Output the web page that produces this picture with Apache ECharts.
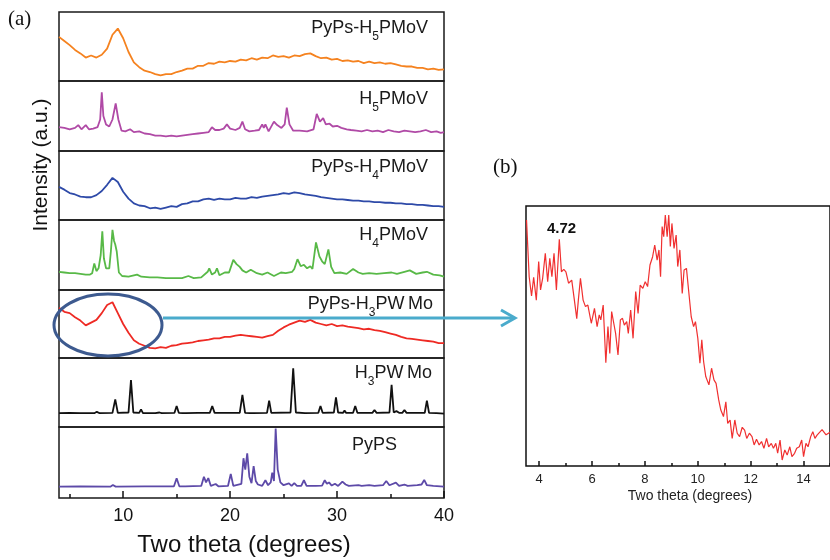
<!DOCTYPE html>
<html><head><meta charset="utf-8">
<script src="https://cdn.jsdelivr.net/npm/echarts@6/dist/echarts.min.js"></script>
<style>html,body{margin:0;padding:0;background:#fff}#c{width:830px;height:560px}</style>
</head><body><div id="c"></div>
<script>
// ---------- DATA ----------
// Shared 2-theta grid for the broad (amorphous) patterns, degrees
const thetaA = [4,4.5,5,5.5,6,6.5,7,7.5,8,8.5,9,9.5,10,10.5,11,11.5,12,12.5,13,13.5,14,14.5,15,15.5,16,16.5,17,17.5,18,18.5,19,19.5,20,20.5,21,21.5,22,22.5,23,23.5,24,24.5,25,25.5,26,26.5,27,27.5,28,28.5,29,29.5,30,30.5,31,31.5,32,32.5,33,33.5,34,34.5,35,35.5,36,36.5,37,37.5,38,38.5,39,39.5,40];
// PyPs-H5PMoV (orange), relative intensity within its panel (0-100)
const orangeI = [64,58,52,45,40,34,37,34,38,47, 67,76,62,42,27,20,15,13,10,8, 10,10,13,15,18,18,22,22,26,25, 28,27,29,28,31,30,33,31,34,33, 37,35,36,34,37,36,39,40,36,33, 34,31,32,29,30,28,29,26,28,26, 27,25,26,24,22,21,21,19,19,17, 18,16,17];
// PyPs-H4PMoV (blue)
const blueI = [48,44,39,37,34,33,33,36,42,51, 61,55,41,31,24,21,20,17,18,16, 18,20,19,23,24,27,27,30,31,29, 31,30,30,32,31,31,33,32,34,35, 36,37,39,38,40,39,37,36,35,33, 32,31,30,30,29,28,28,27,27,26, 26,25,25,24,24,23,23,22,22,21, 20,20,19];
// PyPs-H3PWMo (red)
const redI = [74,68,66,60,55,48,52,56,66,78, 82,66,50,37,26,21,18,15,14,16, 15,18,19,21,22,23,25,26,27,29, 29,31,31,33,34,33,32,31,30,32, 34,40,45,49,52,55,53,56,52,50, 48,50,47,48,46,45,44,42,43,41, 40,38,36,34,31,29,28,27,26,25, 24,22,22];
// H5PMoV (purple)
const purpleT = [4,4.5,5,5.5,5.8,6.1,6.5,6.8,7.2,7.6, 7.85,8.0,8.15,8.4,8.7,9.0,9.3,9.55,9.85,10.2, 10.65,11,11.5,12,12.5,13,13.5,14,14.5,15, 15.5,16,16.5,17,17.5,18,18.3,18.6,19,19.4, 19.7,20,20.5,20.9,21.15,21.4,21.8,22.3,22.7,23.0, 23.15,23.3,23.6,24.1,24.4,24.8,25.1,25.3,25.55,25.9, 26.5,27.2,27.8,28.1,28.4,28.7,28.95,29.3,29.6,30, 30.4,30.9,31.3,31.8,32.3,32.8,33.3,33.8,34.3,34.8, 35.3,35.8,36.3,36.8,37.3,37.8,38.3,38.8,39.3,39.7, 40];
const purpleI = [34,33,31,33,37,31,37,31,32,34, 45,84,50,38,35,45,68,45,29,28, 31,27,28,25,24,22,22,21,22,21, 22,23,24,25,26,27,34,30,30,32, 38,32,30,33,42,31,28,29,30,38, 33,38,28,42,37,33,38,62,38,29, 29,28,31,53,42,47,38,39,35,36, 33,31,30,29,28,30,28,29,27,30, 28,27,29,28,27,28,30,27,28,26, 27];
// H4PMoV (green)
const greenT = [4,4.5,5,5.5,6,6.5,6.9,7.1,7.3,7.5, 7.7,7.9,8.05,8.2,8.4,8.7,8.85,9.0,9.15,9.26, 9.4,9.6,9.9,10.5,11.3,11.7,12.5,13.2,14,14.8, 15.5,16.1,16.6,17.3,17.9,18.05,18.3,18.6,18.77,19.0, 19.5,19.9,20.3,20.6,20.9,21.15,21.5,21.93,22.5,23.0, 23.5,24.1,24.75,25.2,25.8,26.0,26.3,26.6,26.9,27.2, 27.5,27.7,28.03,28.35,28.6,28.85,29.19,29.45,29.75,30.3, 30.9,31.5,32,32.4,33,33.7,34.4,35.1,35.6,36.3, 36.8,37.4,38.0,38.4,39.0,39.6,40];
const greenI = [26,25,24,24,23,22,22,24,38,27, 31,50,84,45,31,31,55,86,70,65, 55,25,20,19,22,19,18,18,17,17, 17,20,17,18,26,31,22,25,31,21, 25,25,43,37,33,28,25,29,24,22, 25,20,25,24,26,30,44,34,36,31, 34,30,68,48,41,37,58,33,24,25, 23,30,25,23,24,23,24,25,23,26, 28,23,25,26,22,21,19];
// H3PWMo (black)
const blackT = [4,5,6,7.3,7.54,7.8,9.0,9.26,9.5,10.5, 10.73,10.95,11.5,11.67,11.85,13,13.4,13.6,14.8,15.0, 15.2,15.55,15.7,15.85,17,18.1,18.33,18.55,20.9,21.15, 21.4,21.85,22.0,22.15,23.45,23.65,23.85,25.65,25.9,26.15, 27,28.25,28.45,28.65,29.7,29.9,30.1,30.55,30.7,30.85, 31.5,31.7,31.9,33.3,33.5,33.7,34.9,35.1,35.3,35.55, 35.8,36.1,36.3,36.5,38.2,38.4,38.6,39.3,40];
const blackI = [20,20.5,20,20,22,20,20.5,40,20.5,21, 68,21,20.5,25.6,20,20,21,20,20.5,30.4, 20.5,20,22.2,20,20.5,20.5,30.4,20.5,20.5,46.4, 20.5,20,22,20,20.5,38.2,20.5,21,85,21, 20,20.5,30.4,20.5,21,43,21,20.5,23.7,20.5, 20.5,30.4,20.5,20.5,24.6,20.5,21,61,21,23, 20.5,20.5,24.6,20.5,20.5,38.2,20.5,20,19.5];
// PyPS (indigo)
const indigoT = [4,6,8.8,9.04,9.3,12,14.75,15.0,15.25,15.8, 17.3,17.55,17.75,17.96,18.2,18.65,18.9,19.8,20.06,20.3, 21.05,21.25,21.42,21.6,21.8,22.0,22.2,22.4,22.6,23.0, 23.3,23.55,23.8,23.94,24.1,24.26,24.45,24.7,25.0,25.5, 25.75,26.0,26.25,26.65,26.9,27.15,28.0,28.6,28.85,29.05, 29.25,29.5,29.8,30.1,30.5,30.8,31.1,32,32.3,33, 33.5,34.3,34.6,34.9,35.5,35.8,36.3,36.6,37.5,37.9, 38.15,38.4,39,40];
const indigoI = [16,16.5,16,18.3,16,16.5,16.5,27.7,16.5,16.5, 17,30,22,28,17,19.7,16.5,17,34,17, 20,56,40,63,30,21,45,24,19,17, 25,18,22,35.7,24,98,40,22,18,20.7, 17,21,17,17,25,17,17,17.5,25,20, 22,17.5,20,17,23,19,17,18,17,18, 17,18,24,18,21.6,17,19,17,18,19, 25.4,18,17,16];
// Panel (b): low-angle detail of PyPs-H3PWMo
const zoomT = [3.52,3.62,3.71,3.79,3.89,3.98,4.05,4.13,4.23,4.32, 4.40,4.48,4.56,4.65,4.76,4.84,4.93,5.01,5.11,5.23, 5.33,5.42,5.48,5.56,5.66,5.75,5.84,5.97,6.09,6.19, 6.27,6.33,6.42,6.52,6.60,6.67,6.74,6.82,6.89,6.98, 7.07,7.15,7.22,7.31,7.37,7.46,7.55,7.65,7.74,7.82, 7.92,8.01,8.10,8.19,8.29,8.37,8.46,8.53,8.59,8.65, 8.71,8.77,8.84,8.90,8.96,9.02,9.10,9.18,9.24,9.32, 9.41,9.48,9.57,9.65,9.75,9.84,9.91,10.00,10.08,10.15, 10.22,10.30,10.42,10.52,10.61,10.69,10.79,10.87,10.97,11.06, 11.13,11.22,11.30,11.40,11.49,11.58,11.68,11.77,11.85,11.95, 12.05,12.13,12.22,12.32,12.41,12.50,12.60,12.68,12.78,12.86, 12.95,13.02,13.11,13.19,13.29,13.38,13.48,13.56,13.66,13.74, 13.84,13.93,14.00,14.09,14.17,14.27,14.35,14.43,14.51,14.57, 14.7,14.85,15.0];
const zoomI = [94.6,72.8,65.4,72.6,63.8,78.6,67.7,72.2,81.8,70.9, 79.9,72.8,81.8,67.7,87.2,74.7,75.6,74.7,70.3,71.5, 63.8,56.7,63.8,72.2,63.8,61.3,61.9,54.9,60.6,53.6, 58.1,56.2,61.9,39.7,53.6,43.3,59.4,54.9,51.0,42.7, 56.2,56.8,54.2,55.5,51.0,60.0,49.1,67.1,58.7,69.6, 68.3,70.9,69.0,77.3,80.5,85.0,79.2,83.1,72.8,92.1, 88.2,96.5,88.2,96.5,84.4,93.3,83.7,88.8,76.7,83.1, 66.4,75.4,76.0,67.7,57.4,53.6,55.5,49.1,39.5,48.5, 40.1,34.4,31.2,37.6,33.1,31.8,25.4,21.5,19.0,24.7, 16.4,17.7,10.6,17.7,12.6,11.3,14.9,13.8,10.6,12.6, 11.3,8.1,10.3,8.1,9.4,6.8,10.6,7.4,8.7,6.8, 8.7,4.9,10.0,2.3,6.2,4.2,7.4,3.6,4.9,6.8, 7.4,10.0,3.6,8.7,7.4,11.3,13.2,10.6,11.9,11.3, 14.0,12.0,13.0];
// Tick labels
const xTickLabelsA = [10,20,30,40];
const xMinorTicksA = [5,15,25,35];
const xTickLabelsB = [4,6,8,10,12,14];
const xMinorTicksB = [5,7,9,11,13,15];
// Panel labels (top to bottom): [text before subscript, subscript, text after]
const panelNames = [['PyPs-H','5','PMoV'],['H','5','PMoV'],['PyPs-H','4','PMoV'],['H','4','PMoV'],['PyPs-H','3','PW\u2009Mo'],['H','3','PW\u2009Mo'],['PyPS','','']];

// ---------- LAYOUT / STYLE ----------
const SANS = "'Liberation Sans', Arial, Helvetica, sans-serif";
const SERIF = "'Liberation Serif', 'Times New Roman', serif";
const tops = [12,81,151,220,290,358,427,498];
const panels = [
  {t: thetaA, v: orangeI, color:'#f5821f'},
  {t: purpleT, v: purpleI, color:'#b04aa6'},
  {t: thetaA, v: blueI, color:'#2e4aa8'},
  {t: greenT, v: greenI, color:'#58b947'},
  {t: thetaA, v: redI, color:'#ee2a24'},
  {t: blackT, v: blackI, color:'#111111'},
  {t: indigoT, v: indigoI, color:'#5d4aa8'}
];
// label anchor: x (right edge, or left edge for 'left'), cap-top y
const labelPos = [
  {x:428, cap:21.5, align:'right'},
  {x:428, cap:92.5, align:'right'},
  {x:428, cap:160.5, align:'right'},
  {x:428, cap:229, align:'right'},
  {x:433, cap:298, align:'right'},
  {x:432, cap:367, align:'right'},
  {x:352, cap:439, align:'left'}
];
const MAIN_FS = 18, SUB_FS = 12;

const grids = [], xAxes = [], yAxes = [], series = [];
panels.forEach((p, i) => {
  grids.push({left:59, width:385, top:tops[i], height:tops[i+1]-tops[i], show:true,
    borderColor:'#1a1a1a', borderWidth:1.5, backgroundColor:'transparent', containLabel:false});
  xAxes.push({gridIndex:i, type:'value', min:4, max:40, position:'bottom',
    axisLine:{show:false, onZero:false}, axisTick:{show:false}, axisLabel:{show:false}, splitLine:{show:false}});
  yAxes.push({gridIndex:i, type:'value', min:0, max:100, show:false});
  series.push({type:'line', xAxisIndex:i, yAxisIndex:i, data:p.t.map((x,k)=>[x, p.v[k]]),
    showSymbol:false, symbol:'none', silent:true, animation:false,
    lineStyle:{color:p.color, width:1.8}, itemStyle:{color:p.color}, z:3});
});
xAxes[6].axisTick = {show:true, inside:true, length:7, customValues:xTickLabelsA, lineStyle:{color:'#111', width:1.5}};
xAxes[6].axisLabel = {show:true, customValues:xTickLabelsA, fontSize:18, color:'#111', margin:9, fontFamily:SANS};
xAxes.push({gridIndex:6, type:'value', min:4, max:40, position:'bottom', offset:0,
  axisLine:{show:false, onZero:false}, axisLabel:{show:false}, splitLine:{show:false},
  axisTick:{show:true, inside:true, length:4, customValues:xMinorTicksA, lineStyle:{color:'#111', width:1.5}}});
grids.push({left:526, top:206, width:314, height:260, show:true, borderColor:'#111', borderWidth:1.5, backgroundColor:'transparent'});
xAxes.push({gridIndex:7, type:'value', min:3.5, max:15, position:'bottom',
  axisLine:{show:false, onZero:false}, splitLine:{show:false},
  axisTick:{show:true, inside:true, length:5, customValues:xTickLabelsB, lineStyle:{color:'#111', width:1.5}},
  axisLabel:{show:true, customValues:xTickLabelsB, fontSize:13, color:'#222', margin:7, fontFamily:SANS}});
xAxes.push({gridIndex:7, type:'value', min:3.5, max:15, position:'bottom', offset:0,
  axisLine:{show:false, onZero:false}, axisLabel:{show:false}, splitLine:{show:false},
  axisTick:{show:true, inside:true, length:3, customValues:xMinorTicksB, lineStyle:{color:'#111', width:1.5}}});
yAxes.push({gridIndex:7, type:'value', min:0, max:100, show:false});
series.push({type:'line', xAxisIndex:8, yAxisIndex:7, data:zoomT.map((x,k)=>[x, zoomI[k]]),
  showSymbol:false, symbol:'none', silent:true, animation:false,
  lineStyle:{color:'#f03030', width:1.2}, z:3});

// text widths for placing subscripts
const mctx = document.createElement('canvas').getContext('2d');
function tw(text, size) { mctx.font = size + 'px ' + SANS; return mctx.measureText(text).width; }

const graphics = [];
panelNames.forEach((n, i) => {
  const lp = labelPos[i];
  const w1 = tw(n[0], MAIN_FS), w2 = n[1] ? tw(n[1], SUB_FS) : 0, w3 = n[2] ? tw(n[2], MAIN_FS) : 0;
  const x0 = lp.align === 'right' ? lp.x - (w1 + w2 + w3) : lp.x;
  const yMain = lp.cap + 6.5, ySub = lp.cap + 15;
  const base = {fontFamily:SANS, fill:'#1a1a1a', align:'left', verticalAlign:'middle'};
  graphics.push({type:'text', x:x0, y:yMain, z:20, style:Object.assign({text:n[0], fontSize:MAIN_FS}, base)});
  if (n[1]) graphics.push({type:'text', x:x0 + w1, y:ySub, z:20, style:Object.assign({text:n[1], fontSize:SUB_FS}, base)});
  if (n[2]) graphics.push({type:'text', x:x0 + w1 + w2, y:yMain, z:20, style:Object.assign({text:n[2], fontSize:MAIN_FS}, base)});
});
graphics.push(
  {type:'text', x:8, y:9, z:20, style:{text:'(a)', fontSize:21, fontFamily:SERIF, fill:'#111', align:'left', verticalAlign:'top'}},
  {type:'text', x:493, y:157, z:20, style:{text:'(b)', fontSize:21, fontFamily:SERIF, fill:'#111', align:'left', verticalAlign:'top'}},
  {type:'text', x:41, y:165, rotation:Math.PI/2, z:20, style:{text:'Intensity (a.u.)', fontSize:21, fontFamily:SANS, fill:'#111', align:'center', verticalAlign:'middle'}},
  {type:'text', x:244, y:545, z:20, style:{text:'Two theta (degrees)', fontSize:24, fontFamily:SANS, fill:'#111', align:'center', verticalAlign:'middle'}},
  {type:'text', x:690, y:496, z:20, style:{text:'Two theta (degrees)', fontSize:14, fontFamily:SANS, fill:'#222', align:'center', verticalAlign:'middle'}},
  {type:'text', x:547, y:221, z:20, style:{text:'4.72', fontSize:15, fontWeight:'bold', fontFamily:SANS, fill:'#111', align:'left', verticalAlign:'top'}},
  {type:'ellipse', z:30, shape:{cx:108, cy:325, rx:54, ry:31}, style:{fill:'none', stroke:'#3d5a8f', lineWidth:3}},
  {type:'line', z:30, shape:{x1:163, y1:318, x2:513, y2:318}, style:{stroke:'#4aabcc', lineWidth:3}},
  {type:'polyline', z:30, shape:{points:[[501,310],[515,318],[501,326]]}, style:{stroke:'#4aabcc', lineWidth:3, fill:null}}
);

const chart = echarts.init(document.getElementById('c'), null, {renderer:'canvas'});
chart.setOption({
  animation:false,
  backgroundColor:'#ffffff',
  grid: grids, xAxis: xAxes, yAxis: yAxes, series: series,
  graphic: graphics
});
</script>
</body></html>
